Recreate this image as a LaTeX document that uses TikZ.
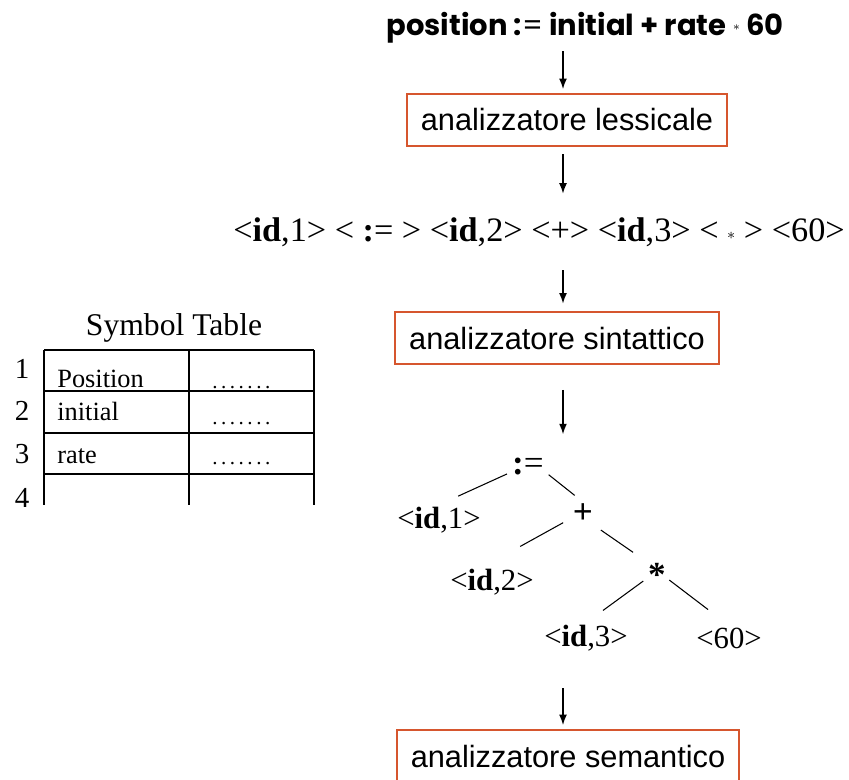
\documentclass[tikz,border=0pt]{standalone}
\usepackage{fontspec}
\setmainfont{Liberation Serif}
\newfontfamily\boxfont{Liberation Sans}
\newfontfamily\gothfont{Poppins}
\usetikzlibrary{arrows.meta}
\definecolor{phasered}{RGB}{214,86,46}

\begin{document}
\begin{tikzpicture}[x=0.02cm, y=-0.02cm,
    phase/.style={draw=phasered, line width=1.1pt, inner xsep=8pt, minimum height=30pt,
      font=\boxfont\fontsize{17.5}{20}\selectfont},
    flow/.style={-{Latex[length=6pt,width=4.5pt]}, line width=0.9pt},
    leaf/.style={inner sep=1pt, font=\fontsize{17.5}{20}\selectfont},
    op/.style={inner sep=1pt, font=\bfseries\fontsize{20}{22}\selectfont},
    branch/.style={line width=0.6pt},
    cell/.style={inner sep=0pt, anchor=base west, font=\fontsize{15}{17}\selectfont}]

    \useasboundingbox (0,0) rectangle (849,779);

    % Sorgente
    \node[font=\gothfont\bfseries\fontsize{16.5}{18}\selectfont] (src) at (585,28)
      {position :{\mdseries=} initial + rate \raisebox{0.35ex}{\scriptsize$\ast$} 60};
    \coordinate (axis) at (563,0);

    % Fasi del compilatore
    \node[phase] (lex) at (567,120) {analizzatore lessicale};
    \node[font=\fontsize{19.5}{22}\selectfont] (tok) at (539,232)
      {<\textbf{id},1> < \textbf{:}= > <\textbf{id},2> <+> <\textbf{id},3> < \raisebox{0.1ex}{\small$\ast$} > <60>};
    \node[phase] (syn) at (557,338) {analizzatore sintattico};

    % Albero sintattico
    \node[op] (assign) at (528,466) {\textbf{:}{\mdseries=}};
    \node[leaf] (id1) at (439,520) {<\textbf{id},1>};
    \node[op] (plus) at (583,514) {+};
    \node[leaf] (id2) at (492,582) {<\textbf{id},2>};
    \node[op] (star) at (657,575) {*};
    \node[leaf] (id3) at (586,638) {<\textbf{id},3>};
    \node[leaf] (c60) at (729,638) {<60>};

    \draw[branch, shorten <=2pt, shorten >=12pt] (assign.200) -- (id1.north);
    \draw[branch, shorten <=2pt, shorten >=6pt]  (assign.-20) -- (plus.north);
    \draw[branch, shorten <=5pt, shorten >=24pt] (plus.200) -- (id2.120);
    \draw[branch, shorten <=4pt, shorten >=9pt]  (plus.-45) -- (star.north west);
    \draw[branch, shorten <=2pt, shorten >=12pt] (star.200) -- (id3.north);
    \draw[branch, shorten <=1pt, shorten >=15pt] (star.-20) -- (c60.north);

    \node[phase] (sem) at (568,756) {analizzatore semantico};

    % Frecce
    \draw[flow, shorten <=1pt, shorten >=2pt]  (src.south -| axis) -- (lex.north -| axis);
    \draw[flow, shorten <=4pt, shorten >=10pt] (lex.south -| axis) -- (tok.north -| axis);
    \draw[flow, shorten <=10pt, shorten >=4pt] (tok.south -| axis) -- (syn.north -| axis);
    \draw[flow, shorten <=14pt, shorten >=12pt] (syn.south -| axis) -- (assign.north -| axis);
    \draw[flow, shorten <=20pt, shorten >=2pt] (id3.south -| axis) -- (sem.north -| axis);

    % Symbol Table
    \node[font=\fontsize{18}{20}\selectfont, anchor=base] (title) at (174,335) {Symbol Table};
    \draw[line width=0.8pt] (44,350) -- (314,350);
    \draw[line width=0.8pt] (44,391) -- (314,391);
    \draw[line width=0.8pt] (44,433) -- (314,433);
    \draw[line width=0.8pt] (44,474) -- (314,474);
    \foreach \x in {44,189,314}
      \draw[line width=0.8pt] (\x,350) -- (\x,505);

    \foreach \n/\y in {1/378,2/420,3/463,4/507}
      \node[font=\fontsize{16.5}{18}\selectfont, anchor=base, inner sep=0pt] (num\n) at (22,\y) {\n};

    \node[cell] (e1) at (57,387) {Position};
    \node[cell] (e2) at (57,420) {initial};
    \node[cell] (e3) at (57,463) {rate};
    \foreach \k/\y in {1/388,2/424,3/464}
      \node[cell, font=\fontsize{12}{14}\selectfont] (d\k) at (212,\y) {.\,.\,.\,.\,.\,.\,.};

\end{tikzpicture}
\end{document}
